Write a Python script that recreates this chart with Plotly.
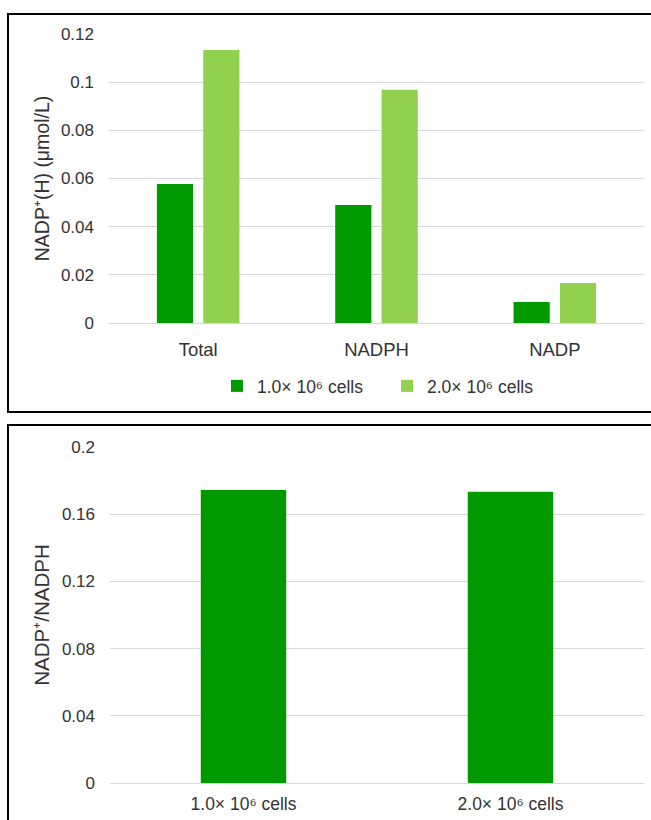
import plotly.graph_objects as go

W, H = 651, 820

# Data
categories_top = ["Total", "NADPH", "NADP"]
series_names = ["1.0× 10⁶ cells", "2.0× 10⁶ cells"]
values_1e6 = [0.0577, 0.0490, 0.0087]
values_2e6 = [0.1134, 0.0968, 0.0166]
categories_bottom = ["1.0× 10⁶ cells", "2.0× 10⁶ cells"]
ratio_values = [0.1744, 0.1734]
ytitle_top = "NADP⁺(H) (μmol/L)"
ytitle_bottom = "NADP⁺/NADPH"

dark = "#009900"
light = "#92D050"
grid = "#D9D9D9"
txt = "#333333"
FONT = "Liberation Sans, Arial, sans-serif"

def px_x(p):
    return p / W

def px_y(p):
    return 1 - p / H

fig = go.Figure()
fig.add_trace(go.Bar(x=categories_top, y=values_1e6, name=series_names[0],
                     marker=dict(color=dark, line=dict(width=0)),
                     xaxis="x", yaxis="y"))
fig.add_trace(go.Bar(x=categories_top, y=values_2e6, name=series_names[1],
                     marker=dict(color=light, line=dict(width=0)),
                     xaxis="x", yaxis="y"))
fig.add_trace(go.Bar(x=categories_bottom, y=ratio_values, showlegend=False,
                     marker=dict(color=dark, line=dict(width=0)), width=0.32,
                     xaxis="x2", yaxis="y2"))

ytick = dict(size=17, color=txt, family=FONT)

fig.update_layout(
    width=W, height=H,
    margin=dict(l=0, r=0, t=0, b=0, autoexpand=False),
    paper_bgcolor="white", plot_bgcolor="white",
    font=dict(family=FONT, size=17, color=txt),
    barmode="group", bargap=0.48, bargroupgap=0.22,
    xaxis=dict(domain=[px_x(109), px_x(644)], anchor="y", showgrid=False, showline=False,
               automargin=False, ticks="", tickfont=dict(size=18.5, color=txt, family=FONT),
               ticklabelstandoff=13),
    yaxis=dict(domain=[px_y(323), px_y(34)], anchor="x", range=[0, 0.12], dtick=0.02,
               automargin=False,
               showgrid=True, gridcolor=grid, gridwidth=1, zeroline=True,
               zerolinecolor=grid, zerolinewidth=1, ticklabelstandoff=14,
               showline=False, ticks="", tickfont=ytick,
               title=dict(text=ytitle_top, font=dict(size=19.5, color=txt), standoff=6)),
    xaxis2=dict(domain=[px_x(110), px_x(644)], anchor="y2", showgrid=False, showline=False,
                automargin=False, ticks="", tickfont=dict(size=17.5, color=txt, family=FONT),
                ticklabelstandoff=8),
    yaxis2=dict(domain=[px_y(783), px_y(447)], anchor="x2", range=[0, 0.2], dtick=0.04,
                automargin=False,
                showgrid=True, gridcolor=grid, gridwidth=1, zeroline=True,
                zerolinecolor=grid, zerolinewidth=1, ticklabelstandoff=14,
                showline=False, ticks="", tickfont=ytick,
                title=dict(text=ytitle_bottom, font=dict(size=20.5, color=txt), standoff=6)),
    legend=dict(orientation="h", x=px_x(387), xanchor="center", y=px_y(386), yanchor="middle",
                entrywidth=125, entrywidthmode="pixels",
                font=dict(size=17.5, color=txt), bgcolor="rgba(0,0,0,0)"),
    shapes=[
        dict(type="rect", xref="paper", yref="paper", x0=px_x(8), x1=1.05,
             y0=px_y(412), y1=px_y(14), line=dict(color="black", width=2)),
        dict(type="rect", xref="paper", yref="paper", x0=px_x(8), x1=1.05,
             y0=-0.05, y1=px_y(425), line=dict(color="black", width=2)),
    ],
)

css_js = (
    "var s=document.createElement('style');"
    "s.textContent='html,body{margin:0;padding:0;width:651px;height:820px;overflow:hidden;}"
    " .plotly-graph-div{position:absolute;left:0;top:0;}';"
    "document.head.appendChild(s);"
)

fig.write_html("out.html", config={"displayModeBar": False}, post_script=css_js)
